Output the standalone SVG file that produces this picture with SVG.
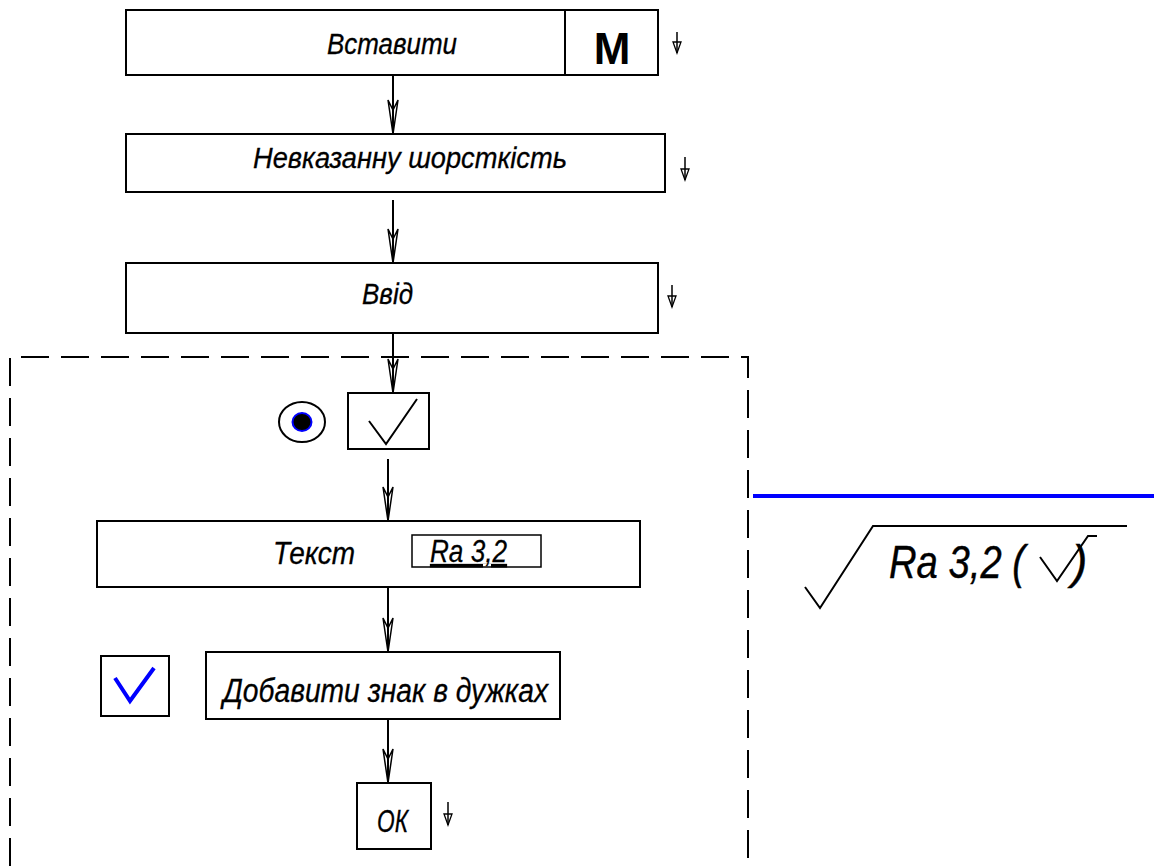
<svg xmlns="http://www.w3.org/2000/svg" width="1154" height="866" viewBox="0 0 1154 866">
<defs>
<style>
.box{fill:#fff;stroke:#000;stroke-width:2}
.ln{fill:none;stroke:#000;stroke-width:2}
.t{font-family:"Liberation Sans",Arial,sans-serif;font-style:italic;font-size:29px;fill:#000;stroke:#000;stroke-width:0.3}
.sm{fill:none;stroke:#000;stroke-width:1.5}
</style>
<marker id="ah" markerUnits="userSpaceOnUse" markerWidth="40" markerHeight="14" viewBox="-37 -7 40 14" refX="0" refY="0" orient="auto" overflow="visible">
<path d="M0,0 L-34,-5 L-24,0 L-34,5 Z" fill="none" stroke="#000" stroke-width="1.5"/>
</marker>
<marker id="sa" markerUnits="userSpaceOnUse" markerWidth="14" markerHeight="10" viewBox="-13 -5 14 10" refX="0" refY="0" orient="auto" overflow="visible">
<path d="M0,0 L-11,-4 L-11,4 Z" fill="none" stroke="#000" stroke-width="1.3"/>
</marker>
</defs>
<rect width="1154" height="866" fill="#fff"/>

<g id="frame">
<path d="M10,866 V357 H748 V866" fill="none" stroke="#000" stroke-width="2" stroke-dasharray="28,12"/>
</g>

<g id="connectors">
<line class="ln" x1="393" y1="75" x2="393" y2="134" marker-end="url(#ah)"/>
<line class="ln" x1="393" y1="200" x2="393" y2="263" marker-end="url(#ah)"/>
<line class="ln" x1="393" y1="333" x2="393" y2="393" marker-end="url(#ah)"/>
<line class="ln" x1="388" y1="459" x2="388" y2="521" marker-end="url(#ah)"/>
<line class="ln" x1="388" y1="587" x2="388" y2="652" marker-end="url(#ah)"/>
<line class="ln" x1="388" y1="719" x2="388" y2="783" marker-end="url(#ah)"/>
<line class="sm" x1="677" y1="32" x2="677" y2="53" marker-end="url(#sa)"/>
<line class="sm" x1="685" y1="157" x2="685" y2="180" marker-end="url(#sa)"/>
<line class="sm" x1="672" y1="285" x2="672" y2="307" marker-end="url(#sa)"/>
<line class="sm" x1="448" y1="802" x2="448" y2="825" marker-end="url(#sa)"/>
</g>

<g id="node-vstavyty">
<rect class="box" x="126" y="10" width="532" height="65"/>
<line class="ln" x1="565" y1="10" x2="565" y2="75"/>
<text class="t" x="327" y="54" textLength="130" lengthAdjust="spacingAndGlyphs">Вставити</text>
<text x="612" y="64" text-anchor="middle" font-family="'Liberation Sans',Arial,sans-serif" font-weight="bold" font-size="44">M</text>
</g>

<g id="node-nevkazannu">
<rect class="box" x="126" y="134" width="539" height="58"/>
<text class="t" x="253" y="168" textLength="314" lengthAdjust="spacingAndGlyphs">Невказанну шорсткість</text>
</g>

<g id="node-vvid">
<rect class="box" x="126" y="263" width="532" height="70"/>
<text class="t" x="362" y="304" textLength="51" lengthAdjust="spacingAndGlyphs">Ввід</text>
</g>

<g id="node-radio">
<ellipse cx="302" cy="422" rx="23" ry="20" fill="#fff" stroke="#000" stroke-width="2"/>
<ellipse cx="302" cy="422" rx="9.5" ry="9" fill="#000" stroke="#0000ff" stroke-width="2"/>
</g>

<g id="node-check">
<rect class="box" x="348" y="393" width="81" height="56"/>
<polyline points="369,421 386,444 417,399" fill="none" stroke="#000" stroke-width="2"/>
</g>

<g id="node-tekst">
<rect class="box" x="97" y="521" width="543" height="66"/>
<text class="t" x="273" y="564" textLength="82" lengthAdjust="spacingAndGlyphs" style="font-size:32px">Текст</text>
<rect x="412" y="535" width="129" height="32" fill="none" stroke="#000" stroke-width="1.5"/>
<text class="t" x="430" y="562" textLength="77" lengthAdjust="spacingAndGlyphs" text-decoration="underline" style="font-size:32px">Ra 3,2</text>
</g>

<g id="node-bluecheck">
<rect class="box" x="101" y="656" width="68" height="60"/>
<polyline points="115,678 130,701 154,668" fill="none" stroke="#0000ff" stroke-width="4"/>
</g>

<g id="node-dodaty">
<rect class="box" x="206" y="652" width="354" height="67"/>
<text class="t" x="223" y="702" textLength="325" lengthAdjust="spacingAndGlyphs" style="font-size:33px">Добавити знак в дужках</text>
</g>

<g id="node-ok">
<rect class="box" x="357" y="783" width="74" height="66"/>
<text class="t" x="377" y="832" textLength="31" lengthAdjust="spacingAndGlyphs" style="font-size:31px">ОК</text>
</g>

<g id="result">
<line x1="753" y1="496" x2="1154" y2="496" stroke="#0000ff" stroke-width="4"/>
<polyline points="805,587 820,608 873,526 1127,526" fill="none" stroke="#000" stroke-width="2"/>
<text class="t" x="889" y="578" style="font-size:46px;stroke-width:0.4" textLength="136" lengthAdjust="spacingAndGlyphs">Ra 3,2 (</text>
<polyline points="1040,557 1057,581 1088,536 1097,536" fill="none" stroke="#000" stroke-width="2"/>
<text class="t" x="1072" y="578" style="font-size:46px;stroke-width:0.4">)</text>
</g>
</svg>
